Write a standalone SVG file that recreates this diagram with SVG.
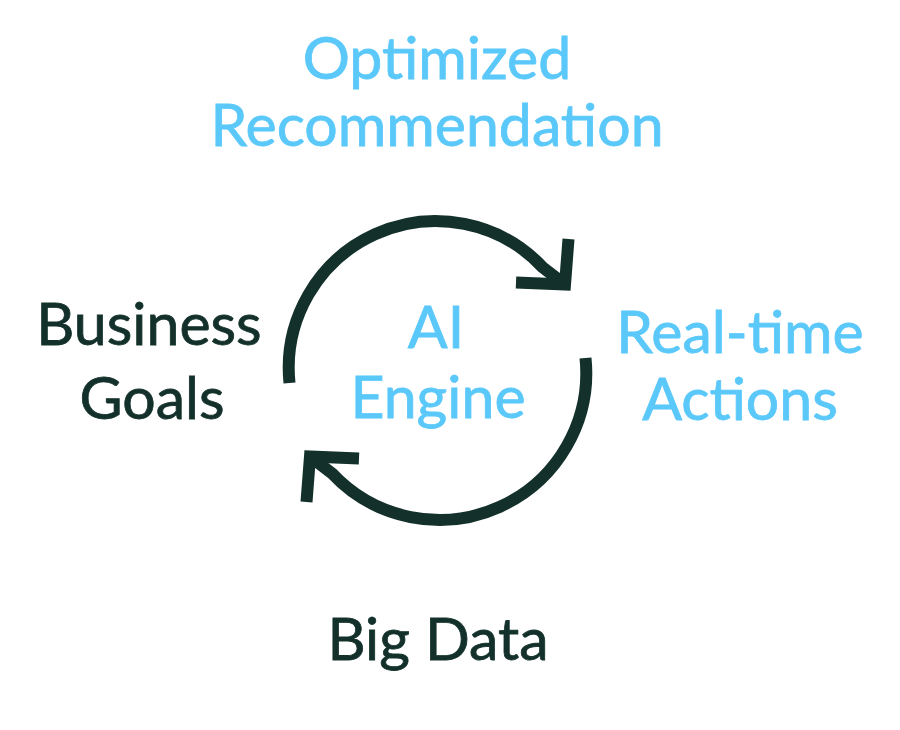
<svg xmlns="http://www.w3.org/2000/svg" width="900" height="730" viewBox="0 0 900 730">
  <style>
    .t { font-family: Lato, "Noto Sans", sans-serif; font-size: 59px; text-anchor: middle; stroke-width: 0.8px; }
    .blue { fill: #5BC8FA; stroke: #5BC8FA; }
    .dark { fill: #13312A; stroke: #13312A; }
    .ln { fill: none; stroke: #13312A; stroke-width: 12; }
  </style>
  <rect width="900" height="730" fill="#FFFFFF"/>
  <g id="connectors">
    <g id="arrow-top">
      <path class="ln" stroke-linejoin="round" d="M 289.5 383 A 147 147 0 0 1 543.2 267.8 L 565 284.5"/>
      <polyline class="ln" stroke-linejoin="miter" points="568.5,239 565,284.5 516,282.5"/>
    </g>
    <g id="arrow-bottom" transform="rotate(180 437.5 370.5)">
      <path class="ln" stroke-linejoin="round" d="M 289.5 383 A 147 147 0 0 1 543.2 267.8 L 565 284.5"/>
      <polyline class="ln" stroke-linejoin="miter" points="568.5,239 565,284.5 516,282.5"/>
    </g>
  </g>
  <g id="node-optimized">
    <text class="t blue" x="437" y="79">Optimized</text>
    <text class="t blue" x="437" y="146">Recommendation</text>
  </g>
  <g id="node-business">
    <text class="t dark" x="149" y="345">Business</text>
    <text class="t dark" x="152" y="419">Goals</text>
  </g>
  <g id="node-engine">
    <text class="t blue" x="436" y="348">AI</text>
    <text class="t blue" x="438" y="418">Engine</text>
  </g>
  <g id="node-actions">
    <text class="t blue" x="740" y="353">Real-time</text>
    <text class="t blue" x="740" y="420">Actions</text>
  </g>
  <g id="node-bigdata">
    <text class="t dark" x="438" y="660">Big Data</text>
  </g>
</svg>
